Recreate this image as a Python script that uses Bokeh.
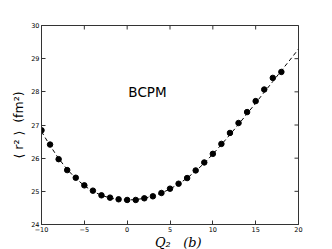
import math
from bokeh.plotting import figure
from bokeh.models import Label, FixedTicker, Range1d
from bokeh.embed import file_html
from bokeh.resources import INLINE

# data
q2_points = list(range(-10, 19))
r2_points = [26.84, 26.41, 25.97, 25.64, 25.41, 25.18, 25.02, 24.88, 24.81, 24.76,
             24.74, 24.74, 24.79, 24.85, 24.95, 25.08, 25.23, 25.40, 25.63, 25.87,
             26.13, 26.43, 26.76, 27.06, 27.39, 27.72, 28.07, 28.42, 28.60]
q2_fit = list(range(-10, 21))
r2_fit = [26.80, 26.38, 25.99, 25.66, 25.39, 25.17, 25.00, 24.88, 24.80, 24.75,
          24.74, 24.75, 24.79, 24.86, 24.95, 25.07, 25.22, 25.40, 25.61, 25.85,
          26.12, 26.41, 26.71, 27.02, 27.34, 27.66, 27.99, 28.31, 28.64, 28.96, 29.29]
x_ticks = [-10, -5, 0, 5, 10, 15, 20]
y_ticks = [24, 25, 26, 27, 28, 29, 30]
x_tick_labels = {-10: "\u221210", -5: "\u22125", 0: "0", 5: "5", 10: "10", 15: "15", 20: "20"}

NB = "\u00a0"

p = figure(frame_width=257, frame_height=199, output_backend="svg", toolbar_location=None,
           x_range=Range1d(-10, 20), y_range=Range1d(24, 30),
           min_border_left=41, min_border_right=5, min_border_top=25, min_border_bottom=20)
p.background_fill_color = "white"
p.border_fill_color = "white"
p.grid.visible = False
p.outline_line_color = "#333333"
p.outline_line_width = 1

for ax in (p.xaxis[0], p.yaxis[0]):
    ax.major_tick_in = 4
    ax.major_tick_out = 0
    ax.minor_tick_in = 0
    ax.minor_tick_out = 0
    ax.axis_line_color = "#333333"
    ax.major_tick_line_color = "#333333"
    ax.major_label_text_font = "DejaVu Sans"
    ax.major_label_text_font_size = "6.5px"
    ax.major_label_text_color = "black"
    ax.major_label_standoff = 2

p.xaxis[0].ticker = FixedTicker(ticks=x_ticks)
p.xaxis[0].major_label_overrides = x_tick_labels
p.yaxis[0].ticker = FixedTicker(ticks=y_ticks)

p.yaxis[0].axis_label = "\u27e8" + NB + "r\u00b2" + NB + "\u27e9" + NB * 2 + "(fm\u00b2)"
p.yaxis[0].axis_label_text_font = "DejaVu Sans"
p.yaxis[0].axis_label_text_font_style = "normal"
p.yaxis[0].axis_label_text_font_size = "12.5px"
p.yaxis[0].axis_label_text_color = "black"
p.yaxis[0].axis_label_standoff = 2

p.xaxis[0].axis_label = NB * 4 + "Q\u2082" + NB * 3 + "(b)"
p.xaxis[0].axis_label_text_font = "DejaVu Serif"
p.xaxis[0].axis_label_text_font_style = "italic"
p.xaxis[0].axis_label_text_font_size = "13px"
p.xaxis[0].axis_label_text_color = "black"
p.xaxis[0].axis_label_standoff = 0

# mirrored inward ticks on the top and right edges (clipped to the frame)
p.scatter([20] * len(y_ticks), y_ticks, marker="dash", size=8, line_color="#333333", line_width=1)
p.scatter(x_ticks, [30] * len(x_ticks), marker="dash", angle=math.pi / 2, size=8,
          line_color="#333333", line_width=1)

p.line(q2_fit, r2_fit, line_color="black", line_width=1, line_dash="4 3")
p.scatter(q2_points, r2_points, size=5.5, fill_color="black", line_color="black")

p.add_layout(Label(x=0.14, y=27.99, text="BCPM", text_font="DejaVu Sans",
                   text_font_size="13.5px", text_color="black",
                   text_align="left", text_baseline="alphabetic"))

open("out.html", "w").write(file_html(p, INLINE))
